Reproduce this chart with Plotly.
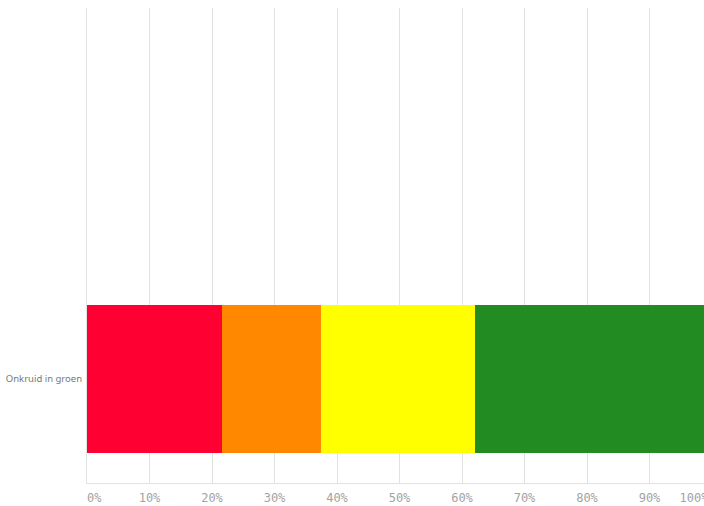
import plotly.graph_objects as go

categories = ["Onkruid in groen"]
series_names = ["Rood", "Oranje", "Geel", "Groen"]
series_values = [[21.6], [15.9], [24.5], [38.0]]
series_colors = ["#FF0033", "#FF8800", "#FFFF00", "#228B22"]
tick_vals = [0, 10, 20, 30, 40, 50, 60, 70, 80, 90, 100]
# edge labels padded with non-breaking spaces so they sit inside the chart like the reference
tick_text = ["\u00a0\u00a00%", "10%", "20%", "30%", "40%", "50%", "60%", "70%", "80%", "90%",
             "100%\u00a0\u00a0\u00a0\u00a0\u00a0"]

fig = go.Figure()
for name, vals, col in zip(series_names, series_values, series_colors):
    fig.add_trace(go.Bar(
        y=categories, x=vals, name=name, orientation="h",
        marker=dict(color=col, line=dict(width=0)), width=1,
    ))

fig.update_layout(
    barmode="stack",
    width=760, height=506,
    margin=dict(l=87, r=48, t=8, b=23),
    paper_bgcolor="white", plot_bgcolor="white",
    showlegend=False,
    xaxis=dict(
        range=[0, 100], tickvals=tick_vals, ticktext=tick_text,
        showgrid=True, gridcolor="#e2e2e2", gridwidth=1,
        zeroline=False, showline=True, linecolor="#e2e2e2", linewidth=1,
        ticks="", ticklabelstandoff=4, automargin=False,
        ticklabeloverflow="allow",
        tickfont=dict(family="DejaVu Sans Mono", size=12, color="#a3a3a3"),
    ),
    yaxis=dict(
        type="category", range=[-0.703, 2.507],
        showgrid=False, zeroline=False, showline=True,
        linecolor="#e2e2e2", linewidth=1, ticks="",
        ticklabelstandoff=2, automargin=False,
        tickfont=dict(family="Noto Sans", size=9.5, color="#777777"),
    ),
)

fig.write_html(
    "out.html",
    config={"displayModeBar": False},
    post_script="document.body.style.margin='0';document.body.style.overflow='hidden';",
)
